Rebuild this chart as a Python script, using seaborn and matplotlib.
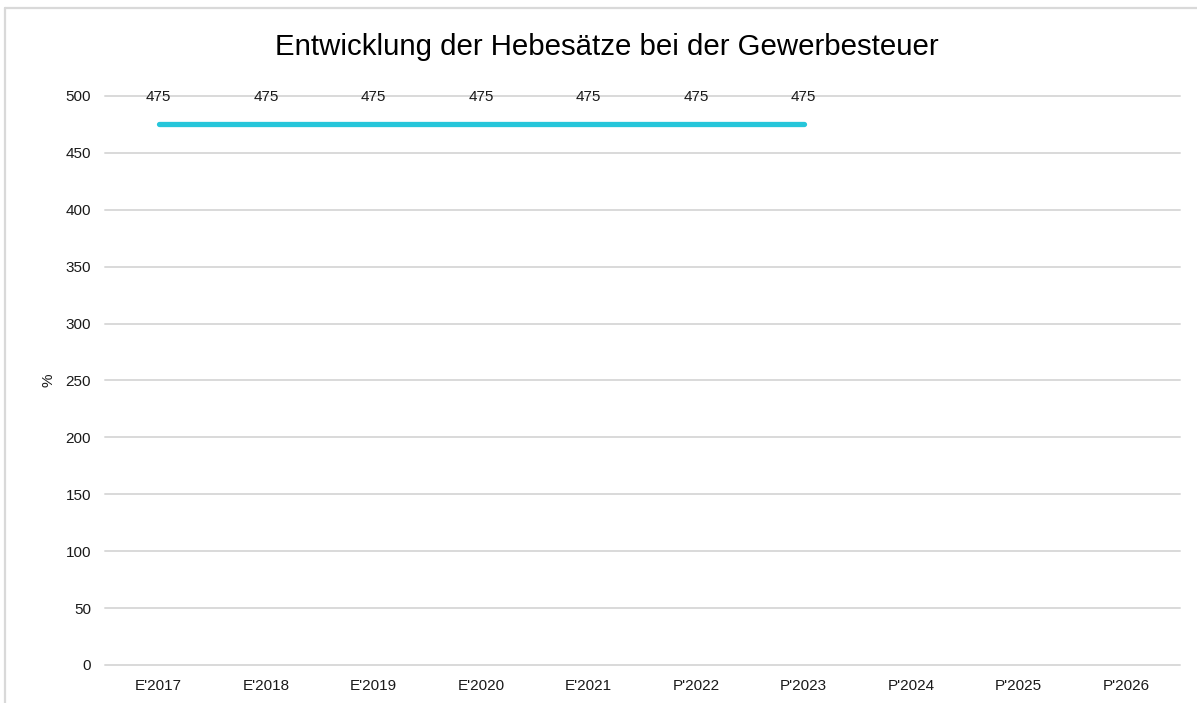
import matplotlib
matplotlib.use("Agg")
import matplotlib.pyplot as plt
from matplotlib.lines import Line2D
import seaborn as sns
import pandas as pd


# data
years = ["E'2017", "E'2018", "E'2019", "E'2020", "E'2021",
         "P'2022", "P'2023", "P'2024", "P'2025", "P'2026"]
hebesatz = [475, 475, 475, 475, 475, 475, 475]

title = "Entwicklung der Hebesätze bei der Gewerbesteuer"

df = pd.DataFrame({
    "jahr": years[:len(hebesatz)],
    "wert": hebesatz
})


sns.set_style("white")
plt.rcParams["font.family"] = ["Liberation Sans", "DejaVu Sans"]

fig = plt.figure(figsize=(11.97, 7.03), dpi=100)

# outer frame (left and top edge only visible)
frame_x = 5 / 1197
frame_y = 1 - 8 / 703
fig.add_artist(Line2D([frame_x, frame_x], [0, frame_y], transform=fig.transFigure,
                      color="#D9D9D9", linewidth=1.6))
fig.add_artist(Line2D([frame_x, 1], [frame_y, frame_y], transform=fig.transFigure,
                      color="#D9D9D9", linewidth=1.6))

ax = fig.add_axes([105 / 1197, 1 - 665 / 703, 1075 / 1197, 569 / 703])

# register all categories in order
ax.xaxis.update_units(years)

sns.lineplot(
    data=df,
    x="jahr",
    y="wert",
    sort=False,
    color="#26C6DA",
    linewidth=3.8,
    solid_capstyle="round",
    ax=ax,
    clip_on=False
)

for x, y in zip(df["jahr"], df["wert"]):
    ax.annotate(
        str(y),
        xy=(x, y),
        xytext=(0, 20),
        textcoords="offset points",
        ha="center",
        va="center",
        fontsize=11,
        color="#1a1a1a",
        annotation_clip=False
    )

ax.set_xlim(-0.5, len(years) - 0.5)
ax.set_ylim(0, 500)
ax.set_xticks(range(len(years)), labels=years)
ax.set_yticks(range(0, 501, 50))

ax.grid(axis="y", color="#D9D9D9", linewidth=1.4)
ax.grid(axis="x", visible=False)
ax.set_axisbelow(True)
for gl in ax.get_ygridlines():
    gl.set_clip_on(False)
sns.despine(ax=ax, left=True, bottom=True)

ax.tick_params(axis="both", length=0, labelsize=11, labelcolor="#1a1a1a")
ax.tick_params(axis="y", pad=10)
ax.tick_params(axis="x", pad=10)

ax.set_xlabel("")
ax.set_ylabel("%", fontsize=11, color="#1a1a1a", labelpad=7)

fig.text(
    607 / 1197,
    1 - 47 / 703,
    title,
    ha="center",
    va="center",
    fontsize=21.2,
    color="#000000"
)

plt.savefig("out.png", dpi=100)
plt.close()
